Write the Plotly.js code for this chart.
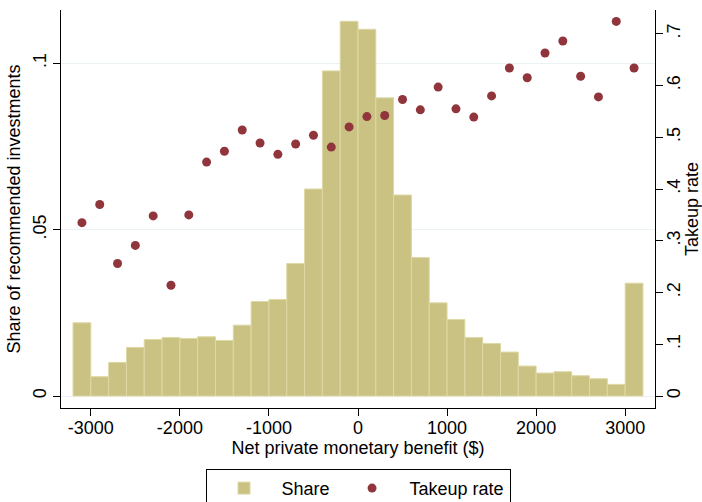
<!DOCTYPE html>
<html>
<head>
<meta charset="utf-8">
<script src="https://cdn.plot.ly/plotly-3.0.1.min.js"></script>
<style>html,body{margin:0;padding:0;background:#fff;}</style>
</head>
<body>
<div id="chart" style="width:702px;height:502px;"></div>
<script>
// Bin centers (net private monetary benefit, $)
const binCenters = [-3100,-2900,-2700,-2500,-2300,-2100,-1900,-1700,-1500,-1300,-1100,-900,-700,-500,-300,-100,
                    100,300,500,700,900,1100,1300,1500,1700,1900,2100,2300,2500,2700,2900,3100];
// Share of recommended investments per bin
const shareValues = [0.0220,0.0058,0.0101,0.0146,0.0170,0.0176,0.0173,0.0178,0.0167,0.0213,0.0284,0.0290,0.0398,
                     0.0622,0.0977,0.1126,0.1102,0.0896,0.0604,0.0416,0.0280,0.0230,0.0176,0.0158,0.0132,0.0090,
                     0.0069,0.0073,0.0061,0.0052,0.0035,0.0339];
// Takeup rate per bin
const takeupValues = [0.335,0.370,0.256,0.291,0.348,0.214,0.350,0.452,0.473,0.514,0.489,0.467,0.487,0.504,0.481,0.520,
                      0.540,0.542,0.573,0.553,0.597,0.555,0.539,0.580,0.634,0.615,0.663,0.686,0.618,0.578,0.724,0.634];
const xTicks = [-3000,-2000,-1000,0,1000,2000,3000];
const yLeftTicks = [0,0.05,0.1];
const yLeftLabels = ["0",".05",".1"];
const yRightTicks = [0,0.1,0.2,0.3,0.4,0.5,0.6,0.7];
const yRightLabels = ["0",".1",".2",".3",".4",".5",".6",".7"];

const FONT = "Liberation Sans, Arial, Helvetica, sans-serif";

const traces = [
  {
    type: "bar",
    name: "Share",
    x: binCenters,
    y: shareValues,
    width: 200,
    marker: {color: "rgb(202,194,130)", line: {color: "rgb(222,216,165)", width: 1}},
    yaxis: "y"
  },
  {
    type: "scatter",
    mode: "markers",
    name: "Takeup rate",
    x: binCenters,
    y: takeupValues,
    marker: {color: "rgb(144,53,59)", size: 9},
    yaxis: "y2"
  }
];

const layout = {
  width: 702,
  height: 502,
  margin: {l: 61, r: 47, t: 10, b: 94, autoexpand: false},
  paper_bgcolor: "#fff",
  plot_bgcolor: "#fff",
  font: {family: FONT, size: 18, color: "#000"},
  showlegend: true,
  legend: {
    orientation: "h",
    x: 0.5, xanchor: "center",
    y: -0.153, yanchor: "top",
    bordercolor: "#000", borderwidth: 1,
    font: {family: FONT, size: 18, color: "#000"},
    itemwidth: 65,
    traceorder: "normal"
  },
  xaxis: {
    range: [-3335, 3335],
    tickvals: xTicks,
    ticktext: xTicks.map(String),
    ticks: "outside", ticklen: 7, tickcolor: "#000",
    ticklabelstandoff: -4,
    showline: true, linecolor: "#000", linewidth: 1,
    showgrid: false, zeroline: false,
    tickfont: {size: 18},
    automargin: false,
    title: {text: "Net private monetary benefit ($)", font: {size: 18}, standoff: 2}
  },
  yaxis: {
    range: [-0.0036, 0.116],
    tickvals: yLeftTicks,
    ticktext: yLeftLabels,
    tickangle: -90,
    ticks: "outside", ticklen: 7, tickcolor: "#000",
    showline: true, linecolor: "#000", linewidth: 1,
    showgrid: true, gridcolor: "rgb(234,242,243)", gridwidth: 1,
    zeroline: false,
    tickfont: {size: 18},
    automargin: false,
    title: {text: "Share of recommended investments", font: {size: 18}, standoff: 4}
  },
  yaxis2: {
    overlaying: "y",
    side: "right",
    range: [-0.0232, 0.746],
    tickvals: yRightTicks,
    ticktext: yRightLabels,
    tickangle: -90,
    ticklabelstandoff: -5,
    ticks: "outside", ticklen: 7, tickcolor: "#000",
    showline: true, linecolor: "#000", linewidth: 1,
    showgrid: false, zeroline: false,
    tickfont: {size: 18},
    automargin: false,
    title: {text: "Takeup rate", font: {size: 18}, standoff: 14}
  },
  bargap: 0
};

Plotly.newPlot("chart", traces, layout, {displayModeBar: false, staticPlot: true});
</script>
</body>
</html>
